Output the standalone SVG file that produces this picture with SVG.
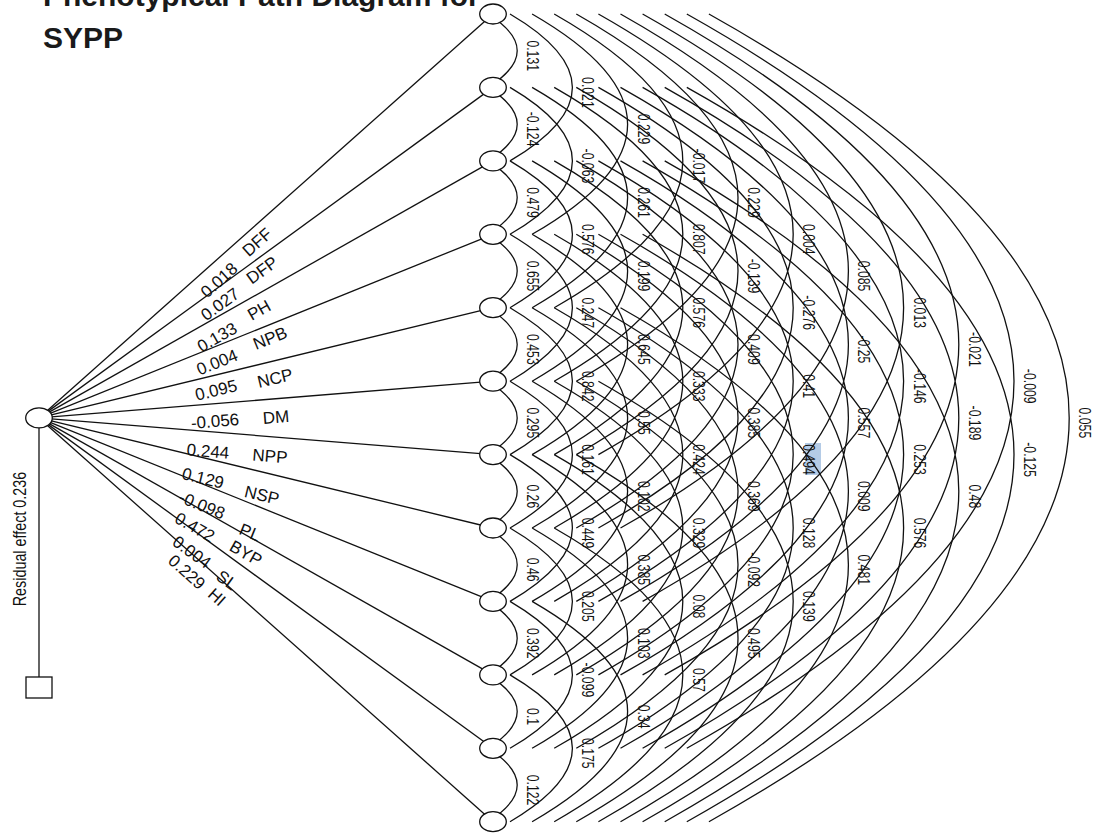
<svg xmlns="http://www.w3.org/2000/svg" width="1099" height="833" viewBox="0 0 1099 833">
<style>
.ln{stroke:#111;stroke-width:1.3;fill:none}
.nd{fill:#fff;stroke:#111;stroke-width:1.3}
.al{font-family:"Liberation Sans",Arial,sans-serif;font-size:17px;fill:#111;text-anchor:middle}
.pl{font-family:"Liberation Sans",Arial,sans-serif;font-size:17px;fill:#111;text-anchor:middle}
.tt{font-family:"Liberation Sans",Arial,sans-serif;font-size:30px;font-weight:bold;fill:#1a1a1a}
</style>
<rect width="1099" height="833" fill="#fff"/>
<g id="title">
<text class="tt" x="43" y="6">Phenotypical Path Diagram for</text>
<text class="tt" x="43" y="48">SYPP</text>
</g>
<rect x="805" y="443" width="16" height="32" fill="#b4cbe6"/>
<g id="connectors">
<g id="paths">
<line class="ln" x1="39" y1="417.9" x2="493" y2="14"/>
<line class="ln" x1="39" y1="417.9" x2="493" y2="87.4"/>
<line class="ln" x1="39" y1="417.9" x2="493" y2="160.9"/>
<line class="ln" x1="39" y1="417.9" x2="493" y2="234.3"/>
<line class="ln" x1="39" y1="417.9" x2="493" y2="307.7"/>
<line class="ln" x1="39" y1="417.9" x2="493" y2="381.2"/>
<line class="ln" x1="39" y1="417.9" x2="493" y2="454.6"/>
<line class="ln" x1="39" y1="417.9" x2="493" y2="528"/>
<line class="ln" x1="39" y1="417.9" x2="493" y2="601.4"/>
<line class="ln" x1="39" y1="417.9" x2="493" y2="674.9"/>
<line class="ln" x1="39" y1="417.9" x2="493" y2="748.3"/>
<line class="ln" x1="39" y1="417.9" x2="493" y2="821.7"/>
<line class="ln" x1="39" y1="428" x2="39" y2="677"/>
</g>
<g id="arcs">
<path class="ln" d="M487.9 14Q546.5 50.7 487.9 87.4M487.9 87.4Q546.5 124.1 487.9 160.9M487.9 160.9Q546.5 197.6 487.9 234.3M487.9 234.3Q546.5 271 487.9 307.7M487.9 307.7Q546.5 344.4 487.9 381.2M487.9 381.2Q546.5 417.9 487.9 454.6M487.9 454.6Q546.5 491.3 487.9 528M487.9 528Q546.5 564.7 487.9 601.4M487.9 601.4Q546.5 638.2 487.9 674.9M487.9 674.9Q546.5 711.6 487.9 748.3M487.9 748.3Q546.5 785 487.9 821.7"/>
<path class="ln" d="M510 14Q634.8 87.4 510 160.9M510 87.4Q634.8 160.9 510 234.3M510 160.9Q634.8 234.3 510 307.7M510 234.3Q634.8 307.7 510 381.2M510 307.7Q634.8 381.2 510 454.6M510 381.2Q634.8 454.6 510 528M510 454.6Q634.8 528 510 601.4M510 528Q634.8 601.4 510 674.9M510 601.4Q634.8 674.9 510 748.3M510 674.9Q634.8 748.3 510 821.7"/>
<path class="ln" d="M532.1 14Q723.1 124.1 532.1 234.3M532.1 87.4Q723.1 197.6 532.1 307.7M532.1 160.9Q723.1 271 532.1 381.2M532.1 234.3Q723.1 344.4 532.1 454.6M532.1 307.7Q723.1 417.9 532.1 528M532.1 381.2Q723.1 491.3 532.1 601.4M532.1 454.6Q723.1 564.7 532.1 674.9M532.1 528Q723.1 638.2 532.1 748.3M532.1 601.4Q723.1 711.6 532.1 821.7"/>
<path class="ln" d="M554.2 14Q811.4 160.9 554.2 307.7M554.2 87.4Q811.4 234.3 554.2 381.2M554.2 160.9Q811.4 307.7 554.2 454.6M554.2 234.3Q811.4 381.2 554.2 528M554.2 307.7Q811.4 454.6 554.2 601.4M554.2 381.2Q811.4 528 554.2 674.9M554.2 454.6Q811.4 601.4 554.2 748.3M554.2 528Q811.4 674.9 554.2 821.7"/>
<path class="ln" d="M576.3 14Q899.7 197.6 576.3 381.2M576.3 87.4Q899.7 271 576.3 454.6M576.3 160.9Q899.7 344.4 576.3 528M576.3 234.3Q899.7 417.9 576.3 601.4M576.3 307.7Q899.7 491.3 576.3 674.9M576.3 381.2Q899.7 564.7 576.3 748.3M576.3 454.6Q899.7 638.2 576.3 821.7"/>
<path class="ln" d="M598.4 14Q988 234.3 598.4 454.6M598.4 87.4Q988 307.7 598.4 528M598.4 160.9Q988 381.2 598.4 601.4M598.4 234.3Q988 454.6 598.4 674.9M598.4 307.7Q988 528 598.4 748.3M598.4 381.2Q988 601.4 598.4 821.7"/>
<path class="ln" d="M620.5 14Q1076.3 271 620.5 528M620.5 87.4Q1076.3 344.4 620.5 601.4M620.5 160.9Q1076.3 417.9 620.5 674.9M620.5 234.3Q1076.3 491.3 620.5 748.3M620.5 307.7Q1076.3 564.7 620.5 821.7"/>
<path class="ln" d="M642.6 14Q1164.6 307.7 642.6 601.4M642.6 87.4Q1164.6 381.2 642.6 674.9M642.6 160.9Q1164.6 454.6 642.6 748.3M642.6 234.3Q1164.6 528 642.6 821.7"/>
<path class="ln" d="M664.7 14Q1252.9 344.4 664.7 674.9M664.7 87.4Q1252.9 417.9 664.7 748.3M664.7 160.9Q1252.9 491.3 664.7 821.7"/>
<path class="ln" d="M686.8 14Q1341.2 381.2 686.8 748.3M686.8 87.4Q1341.2 454.6 686.8 821.7"/>
<path class="ln" d="M708.9 14Q1429.5 417.9 708.9 821.7"/>
</g>
<g id="path-labels" class="pl">
<text transform="translate(219,280) rotate(-41.7)" y="6">0.018</text>
<text transform="translate(257,242) rotate(-41.7)" y="6">DFF</text>
<text transform="translate(220,304) rotate(-36.1)" y="6">0.027</text>
<text transform="translate(262,270) rotate(-36.1)" y="6">DFP</text>
<text transform="translate(217,337) rotate(-29.5)" y="6">0.133</text>
<text transform="translate(259,310) rotate(-29.5)" y="6">PH</text>
<text transform="translate(217,362) rotate(-22)" y="6">0.004</text>
<text transform="translate(270,338) rotate(-22)" y="6">NPB</text>
<text transform="translate(216,390) rotate(-13.7)" y="6">0.095</text>
<text transform="translate(275,378) rotate(-13.7)" y="6">NCP</text>
<text transform="translate(215,421) rotate(-4.6)" y="6">-0.056</text>
<text transform="translate(276,417) rotate(-4.6)" y="6">DM</text>
<text transform="translate(208,451) rotate(4.6)" y="6">0.244</text>
<text transform="translate(270,456) rotate(4.6)" y="6">NPP</text>
<text transform="translate(203,478) rotate(13.6)" y="6">0.129</text>
<text transform="translate(262,495) rotate(13.6)" y="6">NSP</text>
<text transform="translate(202,505) rotate(22)" y="6">-0.098</text>
<text transform="translate(250,532) rotate(22)" y="6">PL</text>
<text transform="translate(195,527) rotate(29.5)" y="6">0.472</text>
<text transform="translate(246,553) rotate(29.5)" y="6">BYP</text>
<text transform="translate(192,552) rotate(36)" y="6">0.004</text>
<text transform="translate(227,580) rotate(36)" y="6">SL</text>
<text transform="translate(187,572) rotate(41.6)" y="6">0.229</text>
<text transform="translate(217,597) rotate(41.6)" y="6">HI</text>
</g>
<g id="arc-labels" class="al">
<text transform="translate(527.2,55.7) rotate(90) scale(0.72,1)">0.131</text>
<text transform="translate(527.2,129.1) rotate(90) scale(0.72,1)">-0.124</text>
<text transform="translate(527.2,202.6) rotate(90) scale(0.72,1)">0.479</text>
<text transform="translate(527.2,276) rotate(90) scale(0.72,1)">0.655</text>
<text transform="translate(527.2,349.4) rotate(90) scale(0.72,1)">0.453</text>
<text transform="translate(527.2,422.9) rotate(90) scale(0.72,1)">0.295</text>
<text transform="translate(527.2,496.3) rotate(90) scale(0.72,1)">0.26</text>
<text transform="translate(527.2,569.7) rotate(90) scale(0.72,1)">0.46</text>
<text transform="translate(527.2,643.2) rotate(90) scale(0.72,1)">0.392</text>
<text transform="translate(527.2,716.6) rotate(90) scale(0.72,1)">0.1</text>
<text transform="translate(527.2,790) rotate(90) scale(0.72,1)">0.122</text>
<text transform="translate(582.4,92.4) rotate(90) scale(0.72,1)">0.021</text>
<text transform="translate(582.4,165.9) rotate(90) scale(0.72,1)">-0.063</text>
<text transform="translate(582.4,239.3) rotate(90) scale(0.72,1)">0.576</text>
<text transform="translate(582.4,312.7) rotate(90) scale(0.72,1)">0.247</text>
<text transform="translate(582.4,386.2) rotate(90) scale(0.72,1)">0.842</text>
<text transform="translate(582.4,459.6) rotate(90) scale(0.72,1)">0.161</text>
<text transform="translate(582.4,533) rotate(90) scale(0.72,1)">0.449</text>
<text transform="translate(582.4,606.4) rotate(90) scale(0.72,1)">0.205</text>
<text transform="translate(582.4,679.9) rotate(90) scale(0.72,1)">-0.099</text>
<text transform="translate(582.4,753.3) rotate(90) scale(0.72,1)">0.175</text>
<text transform="translate(637.6,129.1) rotate(90) scale(0.72,1)">0.229</text>
<text transform="translate(637.6,202.6) rotate(90) scale(0.72,1)">0.261</text>
<text transform="translate(637.6,276) rotate(90) scale(0.72,1)">0.199</text>
<text transform="translate(637.6,349.4) rotate(90) scale(0.72,1)">0.645</text>
<text transform="translate(637.6,422.9) rotate(90) scale(0.72,1)">0.55</text>
<text transform="translate(637.6,496.3) rotate(90) scale(0.72,1)">0.102</text>
<text transform="translate(637.6,569.7) rotate(90) scale(0.72,1)">0.385</text>
<text transform="translate(637.6,643.2) rotate(90) scale(0.72,1)">0.103</text>
<text transform="translate(637.6,716.6) rotate(90) scale(0.72,1)">0.34</text>
<text transform="translate(692.8,165.9) rotate(90) scale(0.72,1)">-0.017</text>
<text transform="translate(692.8,239.3) rotate(90) scale(0.72,1)">0.807</text>
<text transform="translate(692.8,312.7) rotate(90) scale(0.72,1)">0.576</text>
<text transform="translate(692.8,386.2) rotate(90) scale(0.72,1)">0.333</text>
<text transform="translate(692.8,459.6) rotate(90) scale(0.72,1)">0.424</text>
<text transform="translate(692.8,533) rotate(90) scale(0.72,1)">0.329</text>
<text transform="translate(692.8,606.4) rotate(90) scale(0.72,1)">0.08</text>
<text transform="translate(692.8,679.9) rotate(90) scale(0.72,1)">0.57</text>
<text transform="translate(748,202.6) rotate(90) scale(0.72,1)">0.229</text>
<text transform="translate(748,276) rotate(90) scale(0.72,1)">-0.139</text>
<text transform="translate(748,349.4) rotate(90) scale(0.72,1)">0.409</text>
<text transform="translate(748,422.9) rotate(90) scale(0.72,1)">0.385</text>
<text transform="translate(748,496.3) rotate(90) scale(0.72,1)">0.369</text>
<text transform="translate(748,569.7) rotate(90) scale(0.72,1)">-0.092</text>
<text transform="translate(748,643.2) rotate(90) scale(0.72,1)">0.495</text>
<text transform="translate(803.2,239.3) rotate(90) scale(0.72,1)">0.004</text>
<text transform="translate(803.2,312.7) rotate(90) scale(0.72,1)">-0.276</text>
<text transform="translate(803.2,386.2) rotate(90) scale(0.72,1)">0.41</text>
<text transform="translate(803.2,459.6) rotate(90) scale(0.72,1)">0.494</text>
<text transform="translate(803.2,533) rotate(90) scale(0.72,1)">0.128</text>
<text transform="translate(803.2,606.4) rotate(90) scale(0.72,1)">0.139</text>
<text transform="translate(858.4,276) rotate(90) scale(0.72,1)">0.085</text>
<text transform="translate(858.4,349.4) rotate(90) scale(0.72,1)">-0.25</text>
<text transform="translate(858.4,422.9) rotate(90) scale(0.72,1)">0.557</text>
<text transform="translate(858.4,496.3) rotate(90) scale(0.72,1)">0.009</text>
<text transform="translate(858.4,569.7) rotate(90) scale(0.72,1)">0.481</text>
<text transform="translate(913.6,312.7) rotate(90) scale(0.72,1)">0.013</text>
<text transform="translate(913.6,386.2) rotate(90) scale(0.72,1)">-0.146</text>
<text transform="translate(913.6,459.6) rotate(90) scale(0.72,1)">0.253</text>
<text transform="translate(913.6,533) rotate(90) scale(0.72,1)">0.576</text>
<text transform="translate(968.8,349.4) rotate(90) scale(0.72,1)">-0.021</text>
<text transform="translate(968.8,422.9) rotate(90) scale(0.72,1)">-0.189</text>
<text transform="translate(968.8,496.3) rotate(90) scale(0.72,1)">0.48</text>
<text transform="translate(1024,386.2) rotate(90) scale(0.72,1)">-0.009</text>
<text transform="translate(1024,459.6) rotate(90) scale(0.72,1)">-0.125</text>
<text transform="translate(1079.2,422.9) rotate(90) scale(0.72,1)">0.055</text>
</g>
</g>
<g id="source"><ellipse class="nd" cx="39" cy="417.9" rx="13.3" ry="10"/></g>
<g id="residual">
<rect class="nd" x="26" y="677" width="26" height="21"/>
<text class="al" style="font-size:17.5px" transform="translate(25.5,539) rotate(-90) scale(0.82,1)">Residual effect  0.236</text>
</g>
<g id="node-DFF"><ellipse class="nd" cx="493" cy="14" rx="13.3" ry="10"/></g>
<g id="node-DFP"><ellipse class="nd" cx="493" cy="87.4" rx="13.3" ry="10"/></g>
<g id="node-PH"><ellipse class="nd" cx="493" cy="160.9" rx="13.3" ry="10"/></g>
<g id="node-NPB"><ellipse class="nd" cx="493" cy="234.3" rx="13.3" ry="10"/></g>
<g id="node-NCP"><ellipse class="nd" cx="493" cy="307.7" rx="13.3" ry="10"/></g>
<g id="node-DM"><ellipse class="nd" cx="493" cy="381.2" rx="13.3" ry="10"/></g>
<g id="node-NPP"><ellipse class="nd" cx="493" cy="454.6" rx="13.3" ry="10"/></g>
<g id="node-NSP"><ellipse class="nd" cx="493" cy="528" rx="13.3" ry="10"/></g>
<g id="node-PL"><ellipse class="nd" cx="493" cy="601.4" rx="13.3" ry="10"/></g>
<g id="node-BYP"><ellipse class="nd" cx="493" cy="674.9" rx="13.3" ry="10"/></g>
<g id="node-SL"><ellipse class="nd" cx="493" cy="748.3" rx="13.3" ry="10"/></g>
<g id="node-HI"><ellipse class="nd" cx="493" cy="821.7" rx="13.3" ry="10"/></g>
</svg>
